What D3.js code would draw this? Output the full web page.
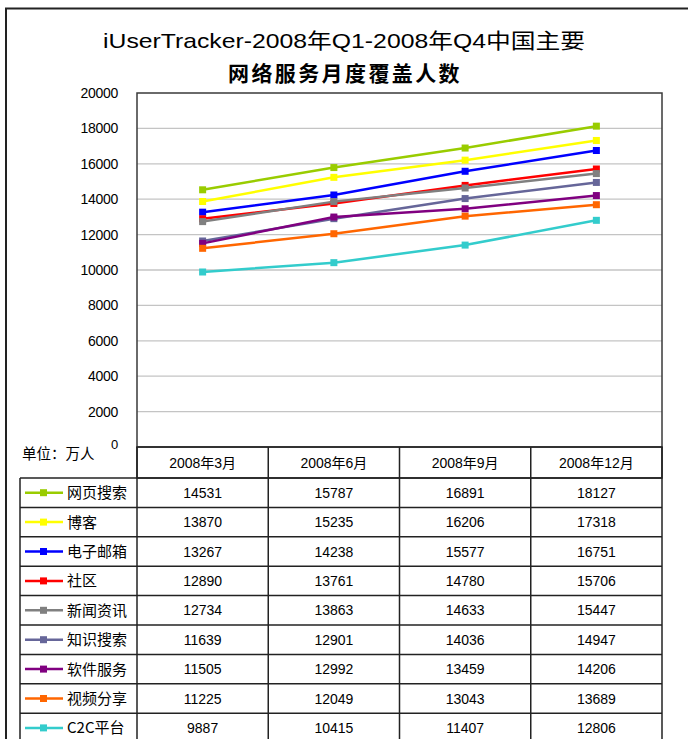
<!DOCTYPE html>
<html><head><meta charset="utf-8">
<script src="https://cdn.jsdelivr.net/npm/d3@7"></script>
<style>
body{margin:0;background:#fff;}
svg{display:block;}
text{font-family:"Liberation Sans","DejaVu Sans","Noto Sans CJK SC",sans-serif;fill:#000;}
.cjk{font-family:"Noto Sans CJK SC","Liberation Sans",sans-serif;}
</style></head>
<body>
<svg id="c" width="688" height="739"></svg>
<script>
const titleLines = ["iUserTracker-2008年Q1-2008年Q4中国主要", "网络服务月度覆盖人数"];
const categories = ["2008年3月", "2008年6月", "2008年9月", "2008年12月"];
const seriesNames = ["网页搜索", "博客", "电子邮箱", "社区", "新闻资讯", "知识搜索", "软件服务", "视频分享", "C2C平台"];
const seriesColors = ["#99cc00", "#ffff00", "#0000ff", "#ff0000", "#808080", "#666699", "#800080", "#ff6600", "#33cccc"];
const webSearch = [14531, 15787, 16891, 18127];
const blog = [13870, 15235, 16206, 17318];
const email = [13267, 14238, 15577, 16751];
const community = [12890, 13761, 14780, 15706];
const news = [12734, 13863, 14633, 15447];
const knowledge = [11639, 12901, 14036, 14947];
const software = [11505, 12992, 13459, 14206];
const video = [11225, 12049, 13043, 13689];
const c2c = [9887, 10415, 11407, 12806];
const seriesValues = [webSearch, blog, email, community, news, knowledge, software, video, c2c];
const yTicks = [0, 2000, 4000, 6000, 8000, 10000, 12000, 14000, 16000, 18000, 20000];
const unitLabel = "单位：万人";

const svg = d3.select("#c");
const L = 137, R = 662, T = 93, B = 447;
const headerBottom = 478, rowH = 29.4, tableLeft = 20;

const x = d3.scaleBand().domain(categories).range([L, R]);
const y = d3.scaleLinear().domain([0, 20000]).range([B, T]);

// outer frame
svg.append("path").attr("d", `M6,739 V8.5 H688`).attr("fill", "none").attr("stroke", "#222").attr("stroke-width", 2);

// title
svg.append("text").attr("x", 344).attr("y", 48).attr("text-anchor", "middle")
  .attr("font-size", 21).attr("textLength", 482).attr("lengthAdjust", "spacingAndGlyphs")
  .text(titleLines[0]);
svg.append("text").attr("class", "cjk").attr("x", 345).attr("y", 81).attr("text-anchor", "middle")
  .attr("font-size", 21).attr("font-weight", "bold").attr("letter-spacing", 2.4)
  .text(titleLines[1]);

// grid lines
svg.append("g").selectAll("line").data(yTicks.filter(d => d > 0 && d < 20000)).join("line")
  .attr("x1", L).attr("x2", R).attr("y1", d => y(d)).attr("y2", d => y(d))
  .attr("stroke", "#c4c4c4").attr("stroke-width", 1.3);

// y axis labels
const yAxis = d3.axisLeft(y).tickValues(yTicks).tickSize(0).tickPadding(0).tickFormat(d3.format("d"));
const ga = svg.append("g").attr("transform", `translate(118,0)`).call(yAxis);
ga.select(".domain").remove();
ga.selectAll("text").attr("font-size", 14).attr("font-family", "Liberation Sans, sans-serif").attr("fill", "#000").attr("letter-spacing", -0.3);
ga.selectAll(".tick").filter(d => d === 0).select("text").attr("dy", "0.1em").attr("font-size", 13);

svg.append("text").attr("class", "cjk").attr("x", 22).attr("y", 459).attr("font-size", 14.5).text(unitLabel);

// plot border
svg.append("rect").attr("x", L).attr("y", T).attr("width", R - L).attr("height", B - T)
  .attr("fill", "none").attr("stroke", "#3a3a3a").attr("stroke-width", 1.5);

// lines
const cx = d => x(d) + x.bandwidth() / 2;
const line = d3.line().x((d, i) => cx(categories[i])).y(d => y(d));
const gl = svg.append("g");
seriesValues.forEach((vals, si) => {
  gl.append("path").datum(vals).attr("d", line).attr("fill", "none")
    .attr("stroke", seriesColors[si]).attr("stroke-width", 2.5);
  gl.selectAll(null).data(vals).join("rect")
    .attr("x", (d, i) => cx(categories[i]) - 3.5).attr("y", d => y(d) - 3.5)
    .attr("width", 7).attr("height", 7).attr("fill", seriesColors[si]);
});

// table
const tg = svg.append("g");
const colEdges = [L].concat(categories.map(c => x(c) + x.bandwidth()));
const nRows = seriesNames.length;
const rowY = i => headerBottom + i * rowH;
// header box
tg.append("rect").attr("x", L).attr("y", B).attr("width", R - L).attr("height", headerBottom - B)
  .attr("fill", "none").attr("stroke", "#222").attr("stroke-width", 1.5);
// horizontal row lines
tg.selectAll("line.h").data(d3.range(nRows + 1)).join("line").attr("class", "h")
  .attr("x1", tableLeft).attr("x2", R).attr("y1", i => rowY(i)).attr("y2", i => rowY(i))
  .attr("stroke", "#222").attr("stroke-width", 1.5);
// vertical lines
tg.append("line").attr("x1", tableLeft).attr("x2", tableLeft).attr("y1", headerBottom).attr("y2", 739)
  .attr("stroke", "#222").attr("stroke-width", 1.5);
tg.selectAll("line.v").data(colEdges).join("line").attr("class", "v")
  .attr("x1", d => d).attr("x2", d => d).attr("y1", B).attr("y2", 739)
  .attr("stroke", "#222").attr("stroke-width", 1.5);
// header labels
tg.selectAll("text.hd").data(categories).join("text").attr("class", "hd")
  .attr("x", d => cx(d)).attr("y", (B + headerBottom) / 2 + 5).attr("text-anchor", "middle")
  .attr("font-size", 14).text(d => d);
// rows
seriesNames.forEach((name, si) => {
  const yc = rowY(si) + rowH / 2;
  tg.append("line").attr("x1", 25).attr("x2", 63).attr("y1", yc).attr("y2", yc)
    .attr("stroke", seriesColors[si]).attr("stroke-width", 2.5);
  tg.append("rect").attr("x", 40).attr("y", yc - 3.5).attr("width", 7).attr("height", 7).attr("fill", seriesColors[si]);
  tg.append("text").attr("class", "cjk").attr("x", 67).attr("y", yc + 5.5).attr("font-size", 15).text(name);
  tg.selectAll(null).data(seriesValues[si]).join("text")
    .attr("x", (d, i) => cx(categories[i])).attr("y", yc + 5).attr("text-anchor", "middle")
    .attr("font-size", 14).text(d => d);
});
</script>
</body></html>
